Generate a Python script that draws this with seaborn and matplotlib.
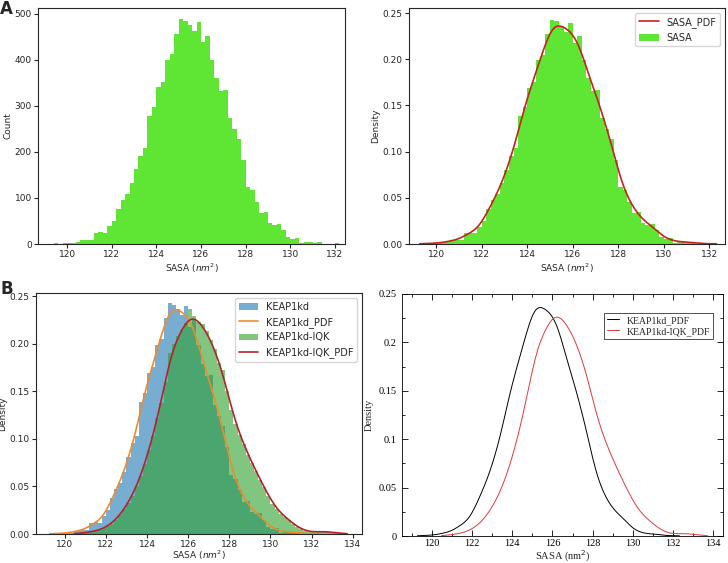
import numpy as np
import pandas as pd
import seaborn as sns
import matplotlib.pyplot as plt
from matplotlib.ticker import MultipleLocator, FuncFormatter

# KEAP1kd SASA histogram counts (bins of 0.2 nm^2 starting at 119.4)
kd_start = 119.4
kd_counts = [2, 0, 2, 2, 3, 5, 8, 9, 8, 24, 25, 24, 38, 50, 77, 95,
             108, 132, 162, 192, 208, 278, 298, 340, 352, 400, 412, 456, 488, 484, 475, 462,
             481, 438, 452, 400, 360, 333, 335, 273, 250, 228, 183, 124, 117, 92, 68, 70,
             46, 42, 44, 30, 15, 10, 12, 3, 5, 5, 3, 5, 1, 0, 0, 2]

# KEAP1kd-IQK SASA histogram densities (bins of 0.2 nm^2 starting at 120.6)
iqk_start = 120.6
iqk_density = [0.001, 0.001, 0.002, 0.002, 0.003, 0.004, 0.006, 0.008, 0.011, 0.015,
               0.020, 0.026, 0.033, 0.040, 0.050, 0.061, 0.073, 0.088, 0.103, 0.122,
               0.138, 0.160, 0.190, 0.200, 0.208, 0.214, 0.222, 0.236, 0.229, 0.223,
               0.220, 0.213, 0.204, 0.194, 0.180, 0.172, 0.150, 0.130, 0.115, 0.104,
               0.095, 0.083, 0.075, 0.066, 0.057, 0.049, 0.040, 0.032, 0.026, 0.021,
               0.018, 0.015, 0.011, 0.007, 0.005, 0.003, 0.002, 0.002, 0.002, 0.003,
               0.003, 0.002, 0.001, 0.001, 0.001]

bw = 0.2
kd_x = kd_start + bw * (np.arange(len(kd_counts)) + 0.5)
iqk_x = iqk_start + bw * (np.arange(len(iqk_density)) + 0.5)
kd = pd.DataFrame({"sasa": kd_x, "w": np.asarray(kd_counts, dtype=float)})
iqk = pd.DataFrame({"sasa": iqk_x, "w": np.asarray(iqk_density, dtype=float)})
kd_range = (kd_start, kd_start + bw * len(kd_counts))
iqk_range = (iqk_start, iqk_start + bw * len(iqk_density))

GREEN = "#5fe533"
BW_ADJ = 0.35
CUT = 0.4

sns.set_style("ticks")
plt.rcParams.update({
    "font.size": 6.5,
    "xtick.major.size": 3, "ytick.major.size": 3,
    "xtick.major.pad": 1.5, "ytick.major.pad": 1.5,
    "axes.labelpad": 1.5,
})
fig = plt.figure(figsize=(7.28, 5.63), dpi=100)

def place(l, t, r, b):
    W, H = 728, 563
    return fig.add_axes([l / W, 1 - b / H, (r - l) / W, (b - t) / H])

def hist(ax, df, rng, stat, color, alpha, label=None):
    sns.histplot(data=df, x="sasa", weights="w", binwidth=bw, binrange=rng, stat=stat,
                 color=color, alpha=alpha, edgecolor="none", ax=ax, label=label)

def pdf(ax, df, color, lw, label):
    sns.kdeplot(data=df, x="sasa", weights="w", bw_adjust=BW_ADJ, cut=CUT,
                color=color, lw=lw, ax=ax, label=label)

xlab = "SASA ($nm^2$)"

# A left: counts
ax1 = place(38, 8, 345, 244)
hist(ax1, kd, kd_range, "count", GREEN, 1)
ax1.set_xlabel(xlab)
ax1.set_ylabel("Count")
ax1.set_xticks(range(120, 133, 2))
ax1.set_xlim(118.7, 132.45)
ax1.set_ylim(0, 512)

# A right: density + pdf
ax2 = place(409, 8, 725, 244)
hist(ax2, kd, kd_range, "density", GREEN, 1, "SASA")
pdf(ax2, kd, "#c9211e", 1.2, "SASA_PDF")
ax2.set_xlabel(xlab)
ax2.set_ylabel("Density")
ax2.set_xticks(range(120, 133, 2))
ax2.set_xlim(118.8, 132.7)
ax2.set_ylim(0, 0.2555)
h, l = ax2.get_legend_handles_labels()
order = [l.index("SASA_PDF"), l.index("SASA")]
ax2.legend([h[i] for i in order], [l[i] for i in order], loc="upper right", fontsize=7)

# B left: both systems
ax3 = place(36, 293, 362, 534)
hist(ax3, kd, kd_range, "density", "tab:blue", 0.6, "KEAP1kd")
pdf(ax3, kd, "#f08a2c", 1.2, "KEAP1kd_PDF")
hist(ax3, iqk, iqk_range, "density", "tab:green", 0.6, "KEAP1kd-IQK")
pdf(ax3, iqk, "#b5212a", 1.2, "KEAP1kd-IQK_PDF")
ax3.set_xlabel(xlab, labelpad=0)
ax3.set_ylabel("Density")
ax3.set_xticks(range(120, 135, 2))
ax3.set_xlim(118.6, 134.45)
ax3.set_ylim(0, 0.2535)
ax3.tick_params(axis="x", pad=1)
h, l = ax3.get_legend_handles_labels()
names = ["KEAP1kd", "KEAP1kd_PDF", "KEAP1kd-IQK", "KEAP1kd-IQK_PDF"]
ax3.legend([h[l.index(n)] for n in names], names, loc="upper right", fontsize=7)

# B right: xmgrace style
ax4 = place(402, 294, 723, 536)
pdf(ax4, kd, "black", 0.7, "KEAP1kd_PDF")
pdf(ax4, iqk, "#e03a3a", 0.7, "KEAP1kd-IQK_PDF")
serif = "Liberation Serif"
ax4.set_xlim(118.5, 134.5)
ax4.set_ylim(0, 0.25)
ax4.xaxis.set_major_locator(MultipleLocator(2))
ax4.xaxis.set_minor_locator(MultipleLocator(1))
ax4.yaxis.set_major_locator(MultipleLocator(0.05))
ax4.yaxis.set_minor_locator(MultipleLocator(0.025))
ax4.yaxis.set_major_formatter(FuncFormatter(lambda v, p: "%g" % round(v, 3)))
ax4.tick_params(which="both", direction="in", top=True, right=True, width=0.6,
                colors="black", pad=4)
ax4.tick_params(axis="x", which="both", pad=2.5)
ax4.tick_params(which="major", length=4)
ax4.tick_params(which="minor", length=2)
for s in ax4.spines.values():
    s.set_linewidth(0.6)
    s.set_color("black")
for t in ax4.get_xticklabels() + ax4.get_yticklabels():
    t.set_fontfamily(serif)
    t.set_fontsize(7.5)
ax4.set_xlabel("SASA (nm$^2$)", fontfamily=serif, fontsize=7.5, labelpad=0)
ax4.set_ylabel("Density", fontfamily=serif, fontsize=7.5, labelpad=3)
leg = ax4.legend(loc="upper right", bbox_to_anchor=(0.984, 0.942), fancybox=False,
                 handlelength=1.2, prop={"family": serif, "size": 7},
                 borderpad=0.3, labelspacing=0.2)
leg.get_frame().set_edgecolor("black")
leg.get_frame().set_linewidth(0.6)

fig.text(0.0, 1.0, "A", fontsize=12, fontweight="bold", va="top", ha="left")
fig.text(0.0, 1 - 280 / 563, "B", fontsize=12, fontweight="bold", va="top", ha="left")

fig.savefig("out.png", dpi=100)
